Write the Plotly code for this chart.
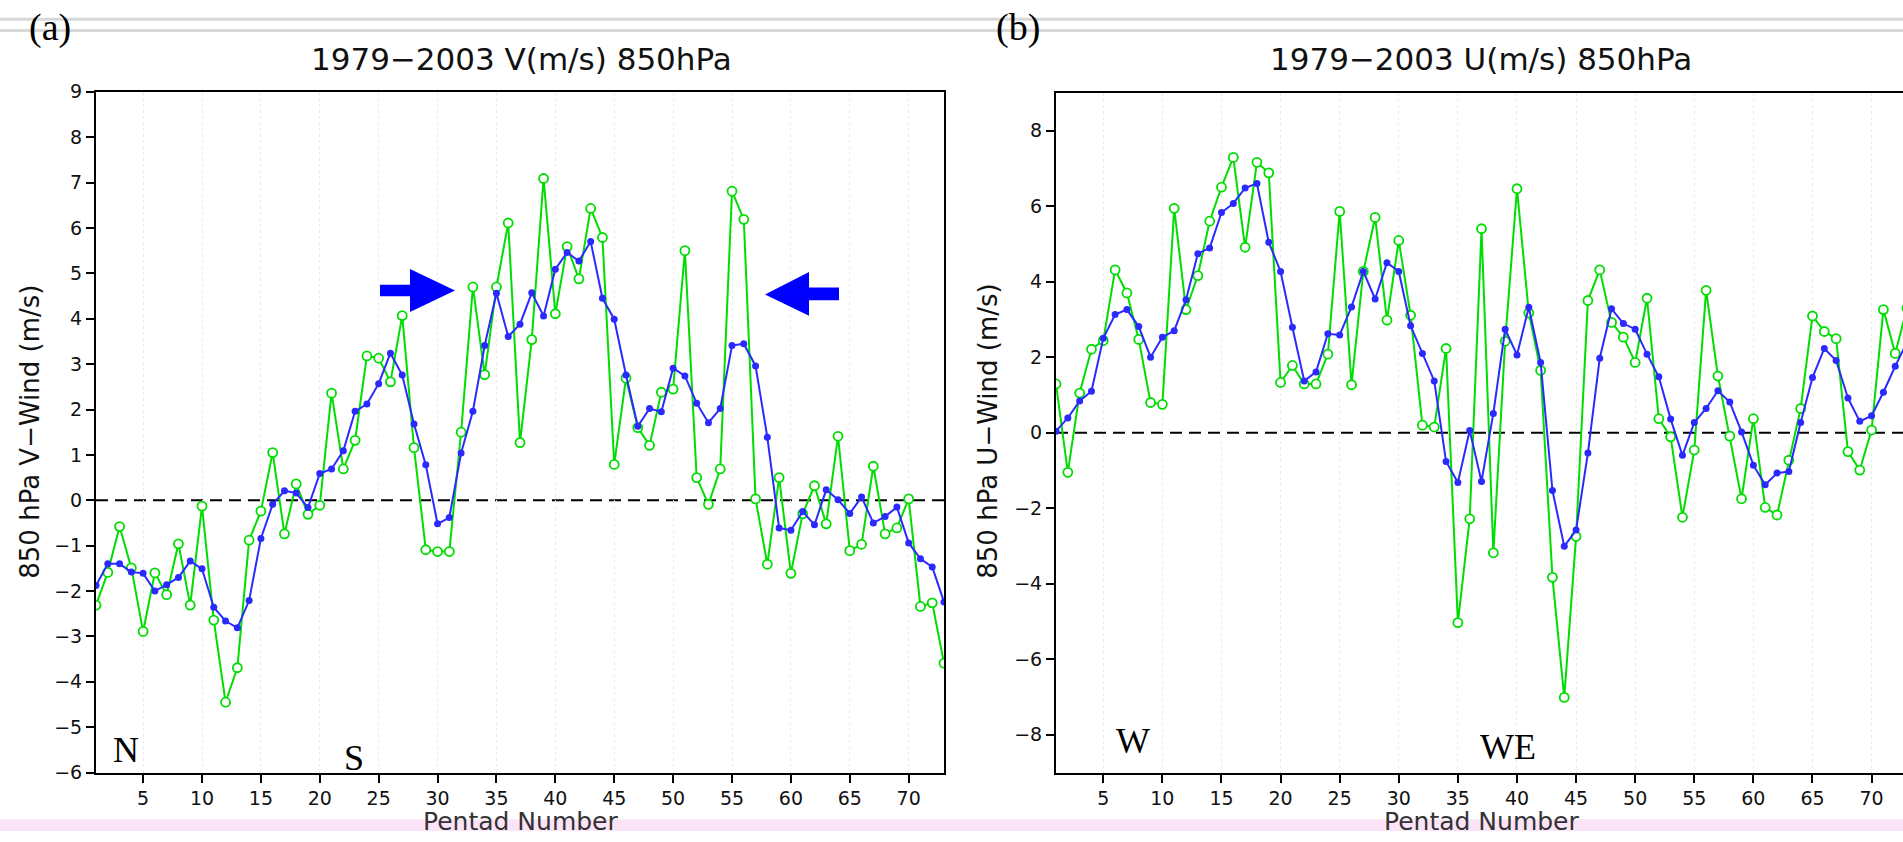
import plotly.graph_objects as go

# ---- data: 850 hPa pentad winds, 1979-2003 ----
pentads = list(range(1, 74))

# V-wind (m/s): pentad values (green) and smoothed curve (blue)
v_pentad = [
    -2.31, -1.59, -0.58, -1.49, -2.89, -1.60, -2.08, -0.96, -2.31, -0.13,
    -2.64, -4.45, -3.69, -0.88, -0.24, 1.05, -0.74, 0.36, -0.31, -0.11,
    2.36, 0.69, 1.32, 3.18, 3.13, 2.61, 4.07, 1.16, -1.09, -1.13,
    -1.13, 1.50, 4.70, 2.77, 4.70, 6.11, 1.27, 3.54, 7.09, 4.11,
    5.59, 4.88, 6.43, 5.79, 0.79, 2.69, 1.60, 1.21, 2.38, 2.45,
    5.50, 0.50, -0.09, 0.69, 6.81, 6.19, 0.03, -1.41, 0.50, -1.61,
    -0.30, 0.32, -0.52, 1.41, -1.11, -0.97, 0.75, -0.74, -0.61, 0.03,
    -2.34, -2.26, -3.59,
]
v_smooth = [
    -1.88, -1.40, -1.40, -1.58, -1.61, -2.00, -1.86, -1.70, -1.34, -1.51,
    -2.36, -2.66, -2.81, -2.21, -0.84, -0.09, 0.21, 0.16, -0.16, 0.59,
    0.69, 1.09, 1.96, 2.12, 2.57, 3.24, 2.76, 1.68, 0.78, -0.52,
    -0.38, 1.04, 1.96, 3.41, 4.56, 3.61, 3.88, 4.57, 4.06, 5.09,
    5.46, 5.27, 5.70, 4.45, 3.99, 2.76, 1.63, 2.02, 1.95, 2.91,
    2.74, 2.14, 1.71, 2.02, 3.41, 3.45, 2.96, 1.39, -0.61, -0.66,
    -0.25, -0.54, 0.23, 0.01, -0.29, 0.07, -0.50, -0.36, -0.15, -0.94,
    -1.29, -1.47, -2.24,
]

# U-wind (m/s): pentad values (green) and smoothed curve (blue)
u_pentad = [
    1.29, -1.05, 1.05, 2.21, 2.44, 4.31, 3.70, 2.47, 0.80, 0.75,
    5.94, 3.26, 4.16, 5.60, 6.50, 7.29, 4.91, 7.16, 6.88, 1.33,
    1.78, 1.29, 1.29, 2.08, 5.86, 1.27, 4.27, 5.70, 2.98, 5.09,
    3.11, 0.20, 0.15, 2.23, -5.03, -2.28, 5.40, -3.18, 2.42, 6.46,
    3.17, 1.65, -3.83, -7.01, -2.75, 3.50, 4.31, 2.92, 2.53, 1.86,
    3.56, 0.37, -0.11, -2.24, -0.46, 3.77, 1.50, -0.09, -1.75, 0.37,
    -1.98, -2.18, -0.73, 0.64, 3.09, 2.68, 2.49, -0.50, -0.99, 0.07,
    3.26, 2.10, 3.30,
]
u_smooth = [
    0.04, 0.39, 0.84, 1.10, 2.50, 3.13, 3.26, 2.81, 2.00, 2.53,
    2.70, 3.52, 4.74, 4.89, 5.83, 6.07, 6.48, 6.60, 5.04, 4.27,
    2.79, 1.37, 1.61, 2.62, 2.59, 3.33, 4.27, 3.54, 4.50, 4.27,
    2.83, 2.10, 1.37, -0.76, -1.32, 0.06, -1.29, 0.51, 2.74, 2.06,
    3.32, 1.86, -1.53, -3.01, -2.58, -0.54, 1.97, 3.28, 2.89, 2.74,
    2.08, 1.48, 0.36, -0.60, 0.27, 0.64, 1.11, 0.81, 0.02, -0.86,
    -1.38, -1.07, -1.03, 0.27, 1.46, 2.23, 1.91, 0.92, 0.30, 0.45,
    1.07, 1.76, 2.40,
]

x_ticks = list(range(5, 71, 5))
v_ticks = list(range(-6, 10))
u_ticks = list(range(-8, 9, 2))

# ---- styling ----
W, H = 1903, 842
GREEN = "#00dd00"
BLUE = "#2a2aff"
FONT = "DejaVu Sans"
SERIF = "Liberation Serif"


def fx(px):
    return px / W


def fy(py):
    return 1 - py / H


fig = go.Figure()


def add_pair(xref, yref, raw, smooth):
    fig.add_trace(go.Scatter(
        x=pentads, y=raw, xaxis=xref, yaxis=yref, mode="lines+markers",
        line=dict(color=GREEN, width=2),
        marker=dict(symbol="circle", size=9, color="white",
                    line=dict(color=GREEN, width=1.8)),
        showlegend=False, hoverinfo="skip"))
    fig.add_trace(go.Scatter(
        x=pentads, y=smooth, xaxis=xref, yaxis=yref, mode="lines+markers",
        line=dict(color=BLUE, width=2),
        marker=dict(symbol="circle", size=7, color=BLUE),
        showlegend=False, hoverinfo="skip"))


add_pair("x", "y", v_pentad, v_smooth)
add_pair("x2", "y2", u_pentad, u_smooth)

# plot-area pixel boxes
A_L, A_R, A_T, A_B = 96, 944, 83, 782
B_L, B_R, B_T, B_B = 1056, 1903, 84, 782
B_XMAX = 1 + (B_R - B_L) / 11.82

tickfont = dict(family=FONT, size=19, color="#111")
common_x = dict(tickmode="array", tickvals=x_ticks, ticks="outside", ticklen=8,
                tickwidth=2, tickcolor="black", showline=True, linecolor="black",
                linewidth=2, showgrid=True, gridcolor="#ececec", griddash="dot",
                gridwidth=1, zeroline=False, tickfont=tickfont)
common_y = dict(ticks="outside", ticklen=8, tickwidth=2, tickcolor="black",
                showline=True, linecolor="black", linewidth=2, showgrid=False,
                zeroline=False, tickfont=tickfont, tickmode="array")

fig.update_layout(
    width=W, height=H, autosize=False,
    margin=dict(l=0, r=0, t=0, b=0),
    paper_bgcolor="white", plot_bgcolor="white",
    showlegend=False,
    xaxis=dict(domain=[fx(A_L), fx(A_R)], range=[1, 73], mirror=True,
               anchor="y", **common_x),
    yaxis=dict(domain=[fy(A_B), fy(A_T)], range=[-6, 9], tickvals=v_ticks,
               mirror=True, anchor="x", **common_y),
    xaxis2=dict(domain=[fx(B_L), 1.0], range=[1, B_XMAX], mirror=True,
                anchor="y2", **common_x),
    yaxis2=dict(domain=[fy(B_B), fy(B_T)], range=[-9, 9], tickvals=u_ticks,
                mirror=False, anchor="x2", **common_y),
)

shapes = []
# dashed zero lines
shapes.append(dict(type="line", xref="x", yref="y", x0=1, x1=73, y0=0, y1=0,
                   line=dict(color="black", width=2, dash="12px,7px"), layer="below"))
shapes.append(dict(type="line", xref="x2", yref="y2", x0=1, x1=B_XMAX, y0=0, y1=0,
                   line=dict(color="black", width=2, dash="12px,7px"), layer="below"))
# page decorations: rules at the top, tinted strip at the bottom
for yy in (8.5, 20):
    shapes.append(dict(type="line", xref="paper", yref="paper", x0=0, x1=1,
                       y0=fy(yy), y1=fy(yy), line=dict(color="#d8d8d8", width=3)))
shapes.append(dict(type="rect", xref="paper", yref="paper", x0=0, x1=1,
                   y0=0, y1=fy(830), fillcolor="#fbe4f8", line=dict(width=0),
                   layer="below"))


def poly(points):
    return "M " + " L ".join(f"{fx(a):.5f},{fy(b):.5f}" for a, b in points) + " Z"


# onset / retreat arrows in panel (a)
right_arrow = [(380, 281), (410, 281), (410, 265), (455, 287), (410, 309),
               (410, 293), (380, 293)]
left_arrow = [(839, 284), (809, 284), (809, 268), (765, 291), (809, 313),
              (809, 297), (839, 297)]
for pts in (right_arrow, left_arrow):
    shapes.append(dict(type="path", xref="paper", yref="paper", path=poly(pts),
                       fillcolor="#0000ff", line=dict(color="#0000ff", width=0)))
fig.update_layout(shapes=shapes)

ann = []


def text(x, y, s, size, family=FONT, color="#111", angle=0):
    ann.append(dict(x=fx(x), y=fy(y), xref="paper", yref="paper", text=s,
                    showarrow=False, xanchor="center", yanchor="middle",
                    textangle=angle, font=dict(family=family, size=size, color=color)))


text(521, 49, "1979\u22122003 V(m/s) 850hPa", 31)
text(1481, 49, "1979\u22122003 U(m/s) 850hPa", 31)
text(30, 432, "850 hPa V\u2212Wind (m/s)", 26, angle=-90)
text(988, 432, "850 hPa U\u2212Wind (m/s)", 26, angle=-90)
text(520, 832, "Pentad Number", 25, color="#333")
text(1481, 832, "Pentad Number", 25, color="#333")
text(50, 17, "(a)", 38, family=SERIF, color="black")
text(1018, 17, "(b)", 38, family=SERIF, color="black")
text(126, 759, "N", 36, family=SERIF, color="black")
text(354, 767, "S", 36, family=SERIF, color="black")
text(1133, 750, "W", 36, family=SERIF, color="black")
text(1508, 756, "WE", 36, family=SERIF, color="black")
fig.update_layout(annotations=ann)

fig.write_html("out.html")
